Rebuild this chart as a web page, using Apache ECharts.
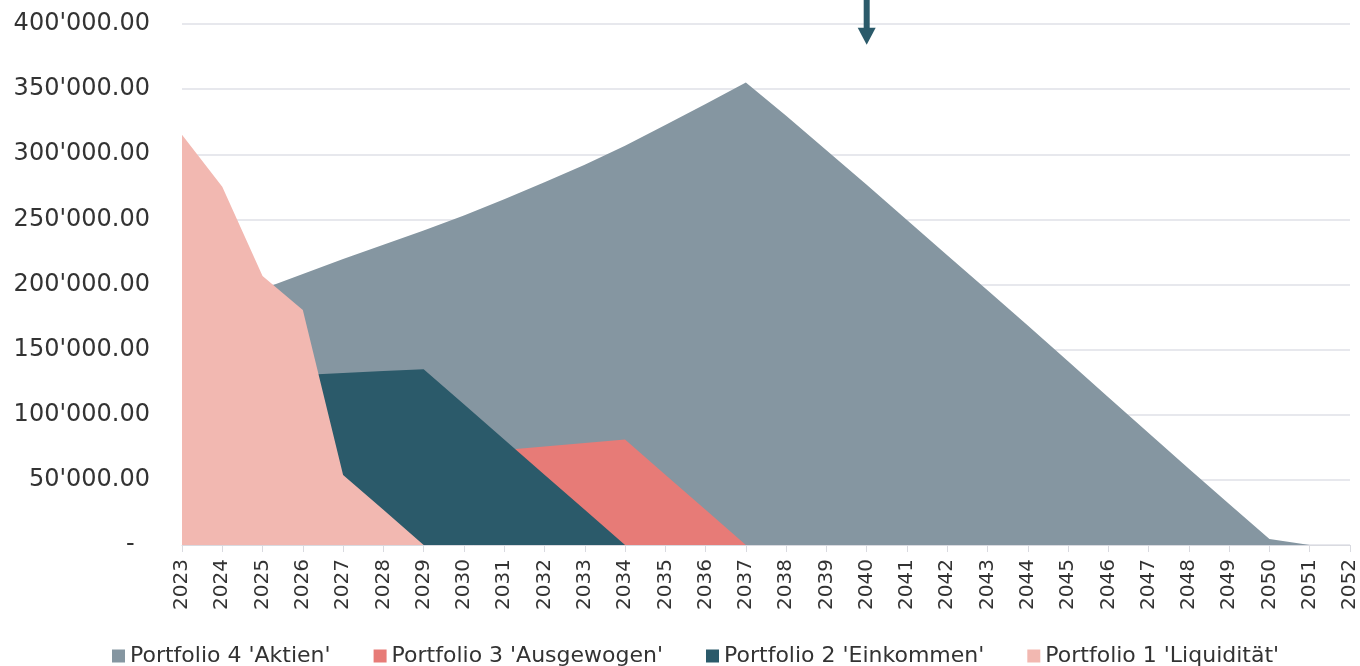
<!DOCTYPE html>
<html>
<head>
<meta charset="utf-8">
<script src="https://cdn.jsdelivr.net/npm/echarts@6/dist/echarts.min.js"></script>
<style>
  html, body { margin: 0; padding: 0; background: #fff; }
  #chart { width: 1360px; height: 666px; }
</style>
</head>
<body>
<div id="chart"></div>
<script>
var years = ['2023','2024','2025','2026','2027','2028','2029','2030','2031','2032',
  '2033','2034','2035','2036','2037','2038','2039','2040','2041','2042',
  '2043','2044','2045','2046','2047','2048','2049','2050','2051','2052'];

// Portfolio 4 'Aktien'
var aktien = [176000, 186000, 196500, 208000, 219500, 230500, 241500, 253000, 265500, 278500,
  292000, 306500, 322500, 338500, 355000, 329500, 303000, 276500, 249500, 222500,
  195500, 168500, 141000, 113500, 86000, 58500, 31500, 4600, 0, null];
// Portfolio 3 'Ausgewogen'
var ausgewogen = [56000, 58000, 60000, 62000, 64000, 66000, 68000, 70500, 73000, 75700,
  78300, 81000, 54000, 27000, 0, null, null, null, null, null,
  null, null, null, null, null, null, null, null, null, null];
// Portfolio 2 'Einkommen'
var einkommen = [126000, 127500, 129000, 130500, 132000, 133500, 135000, 108000, 81000, 54000,
  27000, 0, null, null, null, null, null, null, null, null,
  null, null, null, null, null, null, null, null, null, null];
// Portfolio 1 'Liquidität'
var liquiditaet = [315000, 275000, 206500, 180500, 53700, 27000, 0, null, null, null,
  null, null, null, null, null, null, null, null, null, null,
  null, null, null, null, null, null, null, null, null, null];

var names = ["Portfolio 4 'Aktien'", "Portfolio 3 'Ausgewogen'", "Portfolio 2 'Einkommen'", "Portfolio 1 'Liquidität'"];
var colors = ['#8596a1', '#e77b77', '#2b5a6a', '#f2b8b1'];
var values = [aktien, ausgewogen, einkommen, liquiditaet];

// arrow annotation points at this year, tip at this value
var arrowYear = '2040';
var arrowTip = 384000;

var chart = echarts.init(document.getElementById('chart'));

function fmt(v) {
    if (v === 0) return '-  ';
    return String(v).replace(/\B(?=(\d{3})+(?!\d))/g, "'") + '.00';
}

var series = values.map(function (d, i) {
    return {
        name: names[i],
        type: 'line',
        data: d,
        showSymbol: false,
        symbol: 'none',
        lineStyle: { width: 0 },
        itemStyle: { color: colors[i] },
        areaStyle: { color: colors[i], opacity: 1 },
        z: 2 + i
    };
});

chart.setOption({
    animation: false,
    textStyle: { fontFamily: 'DejaVu Sans' },
    grid: { left: 182, right: 10, top: 24, bottom: 121 },
    legend: {
        data: names,
        left: 107,
        top: 640,
        icon: 'rect',
        itemWidth: 13,
        itemHeight: 13,
        itemGap: 43,
        textStyle: { fontSize: 22, color: '#333', fontFamily: 'DejaVu Sans' }
    },
    xAxis: {
        type: 'category',
        data: years,
        boundaryGap: false,
        axisLine: { lineStyle: { color: '#d9dae0', width: 1 } },
        axisTick: { interval: 0, length: 7, lineStyle: { color: '#d9dae0' } },
        axisLabel: { interval: 0, rotate: 90, margin: 14, fontSize: 20, color: '#333' },
        splitLine: { show: false }
    },
    yAxis: {
        type: 'value',
        min: 0,
        max: 400000,
        interval: 50000,
        axisLine: { show: false },
        axisTick: { show: false },
        axisLabel: { margin: 32, fontSize: 24, color: '#333', formatter: fmt },
        splitLine: { lineStyle: { color: '#dfe0e7', width: 1.5 } }
    },
    series: series
});

var ax = chart.convertToPixel({ xAxisIndex: 0 }, arrowYear);
var tipY = chart.convertToPixel({ yAxisIndex: 0 }, arrowTip);
chart.setOption({
    graphic: [
        { type: 'rect', shape: { x: ax - 3, y: 0, width: 6, height: tipY - 16 }, style: { fill: '#2b5a6a' }, z: 10 },
        { type: 'polygon', shape: { points: [[ax - 9, tipY - 17], [ax + 9, tipY - 17], [ax, tipY]] }, style: { fill: '#2b5a6a' }, z: 10 }
    ]
});
</script>
</body>
</html>
